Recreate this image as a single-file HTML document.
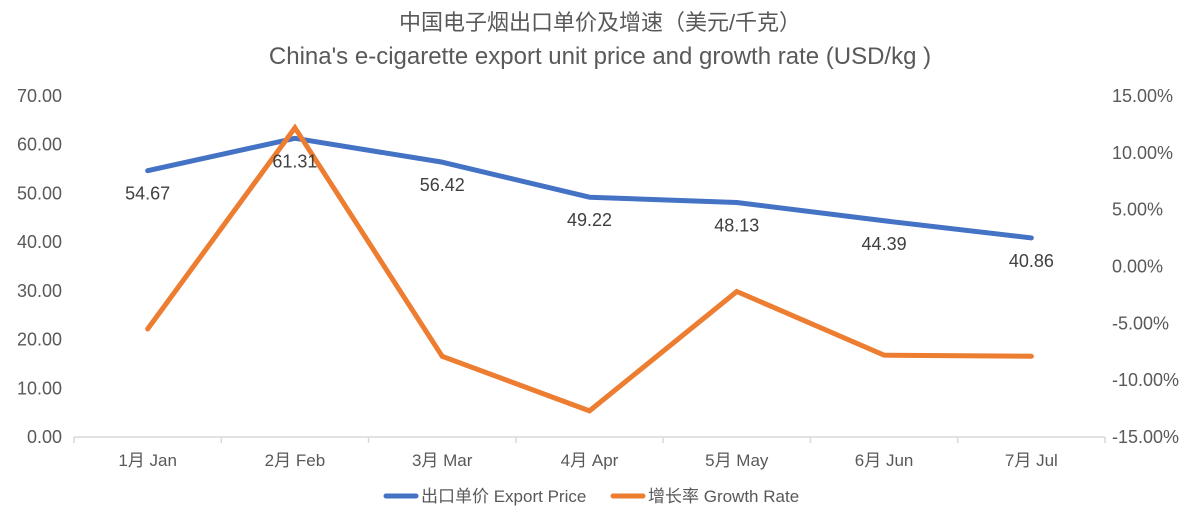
<!DOCTYPE html>
<html><head><meta charset="utf-8"><style>
body{margin:0;background:#fff;}
svg{display:block;font-family:"Liberation Sans","Noto Sans CJK SC",sans-serif;}
</style></head><body>
<svg id="chart" width="1200" height="522" viewBox="0 0 1200 522">
<text x="600" y="30" text-anchor="middle" font-size="22" fill="#595959">中国电子烟出口单价及增速（美元/千克）</text>
<text x="600" y="64" text-anchor="middle" font-size="24" fill="#595959">China's e-cigarette export unit price and growth rate (USD/kg )</text>
<g id="axes"></g><g id="marks"></g>
<g>
<line x1="386" y1="496" x2="416" y2="496" stroke="#4472C4" stroke-width="5" stroke-linecap="round"/>
<text x="421" y="502" font-size="17" fill="#595959">出口单价 Export Price</text>
<line x1="613" y1="496" x2="643" y2="496" stroke="#ED7D31" stroke-width="5" stroke-linecap="round"/>
<text x="648" y="502" font-size="17" fill="#595959">增长率 Growth Rate</text>
</g>
</svg>
<script>
const categories=["1月 Jan","2月 Feb","3月 Mar","4月 Apr","5月 May","6月 Jun","7月 Jul"];
const priceValues=[54.67,61.31,56.42,49.22,48.13,44.39,40.86];
const growthValues=[-5.5,12.2,-7.9,-12.7,-2.2,-7.8,-7.9];
const leftTicks=[0,10,20,30,40,50,60,70];
const rightTicks=[-15,-10,-5,0,5,10,15];
const NS="http://www.w3.org/2000/svg";
const x0=74,x1=1105,yTop=96,yBot=437;
const bw=(x1-x0)/categories.length;
const xs=i=>x0+bw*(i+0.5);
const yL=v=>yBot-(v-0)/70*(yBot-yTop);
const yR=v=>yBot-(v+15)/30*(yBot-yTop);
const axes=document.getElementById('axes'),marks=document.getElementById('marks');
function mk(t,a,p){const e=document.createElementNS(NS,t);for(const k in a)e.setAttribute(k,a[k]);p.appendChild(e);return e;}
const base=mk('line',{x1:x0,y1:yBot,x2:x1,y2:yBot,stroke:'#d9d9d9','stroke-width':1.5},axes);


for(let i=0;i<=categories.length;i++){const t=mk('line',{x1:x0+bw*i,y1:yBot,x2:x0+bw*i,y2:yBot+6,stroke:'#d9d9d9','stroke-width':1.5},axes);

}
categories.forEach((c,i)=>{const t=mk('text',{x:xs(i),y:yBot+29,'text-anchor':'middle','font-size':17,fill:'#595959'},axes);t.textContent=c;

});
leftTicks.forEach(v=>{const t=mk('text',{x:62,y:yL(v)+6,'text-anchor':'end','font-size':18,fill:'#595959'},axes);t.textContent=v.toFixed(2);

});
rightTicks.forEach(v=>{const t=mk('text',{x:1112,y:yR(v)+6,'font-size':18,fill:'#595959'},axes);t.textContent=v.toFixed(2)+'%';

});
const pl=mk('polyline',{points:priceValues.map((v,i)=>xs(i)+','+yL(v)).join(' '),fill:'none',stroke:'#4472C4','stroke-width':5,'stroke-linejoin':'round','stroke-linecap':'round'},marks);


const gl=mk('polyline',{points:growthValues.map((v,i)=>xs(i)+','+yR(v)).join(' '),fill:'none',stroke:'#ED7D31','stroke-width':5,'stroke-linejoin':'miter','stroke-linecap':'round'},marks);


priceValues.forEach((v,i)=>{const t=mk('text',{x:xs(i),y:yL(v)+29,'text-anchor':'middle','font-size':18,fill:'#404040'},marks);t.textContent=v.toFixed(2);

});
</script>
</body></html>
